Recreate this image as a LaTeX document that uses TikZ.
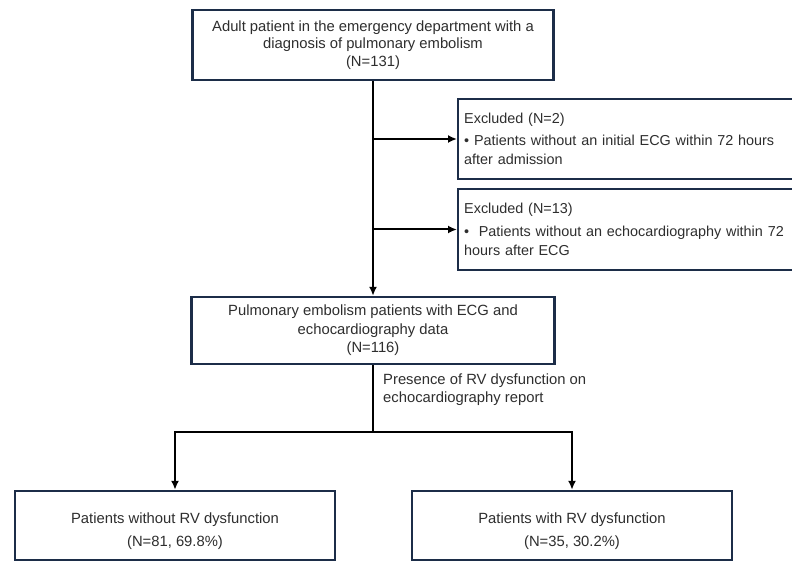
\documentclass[tikz,border=0pt]{standalone}
\usepackage{fontspec}
\setmainfont{Liberation Sans}
\usetikzlibrary{arrows.meta}
\definecolor{boxline}{RGB}{28,45,72}

\begin{document}
\begin{tikzpicture}[
  x=1pt,
  y=-1pt,
  box/.style={
      rectangle,
      draw=boxline,
      line width=2.4pt,
      align=center,
      font=\fontsize{14.8}{17.5}\selectfont,
      text=black!82,
      fill=white
  },
  excl/.style={
      box,
      anchor=west,
      align=left,
      text width=345pt,
      inner xsep=6pt,
      minimum height=80pt,
      font=\fontsize{14.4}{19}\selectfont
  },
  result/.style={
      box,
      minimum width=320pt,
      minimum height=69pt,
      font=\fontsize{14.8}{23}\selectfont
  },
  arrow/.style={
      -{Latex[length=9pt,width=8pt]},
      line width=2pt
  }
]
\useasboundingbox (0,0) rectangle (792,561);

% ==================================================
% Cohort
% ==================================================

\node[
    box,
    minimum width=361pt,
    minimum height=70pt
] (adult) at (373,45)
{
Adult patient in the emergency department with a\\
diagnosis of pulmonary embolism\\
(N=131)
};

\node[
    excl
] (excl1) at (457,139)
{
Excluded (N=2)\\[3pt]
\textbullet\ Patients without an initial ECG within 72 hours\\
after admission
};

\node[
    excl,
    minimum height=81pt
] (excl2) at (457,229.5)
{
Excluded (N=13)\\[4pt]
\textbullet\ \ Patients without an echocardiography within 72\\
hours after ECG
};

\node[
    box,
    minimum width=363pt,
    minimum height=67pt,
    font=\fontsize{14.8}{18.5}\selectfont
] (cohort) at (373,330.5)
{
Pulmonary embolism patients with ECG and\\
echocardiography data\\
(N=116)
};

\node[
    anchor=west,
    align=left,
    inner sep=2pt,
    text=black!82,
    font=\fontsize{14.8}{18}\selectfont
] (rvlabel) at (381,390)
{
Presence of RV dysfunction on\\
echocardiography report
};

% ==================================================
% Groups
% ==================================================

\node[result] (noRV) at (175,525.5)
{
\rule{0pt}{23pt}Patients without RV dysfunction\\
(N=81, 69.8\%)
};

\node[result] (withRV) at (572,525.5)
{
\rule{0pt}{23pt}Patients with RV dysfunction\\
(N=35, 30.2\%)
};

% ==================================================
% Connections
% ==================================================

\draw[arrow] (adult.south) -- (cohort.north);
\draw[arrow] (adult.south |- excl1.west) -- (excl1.west);
\draw[arrow] (adult.south |- excl2.west) -- (excl2.west);

\coordinate (split) at (373,432);
\draw[line width=2pt] (cohort.south) -- (split);
\draw[arrow] (split) -| (noRV.north);
\draw[arrow] (split) -| (withRV.north);

\end{tikzpicture}
\end{document}
